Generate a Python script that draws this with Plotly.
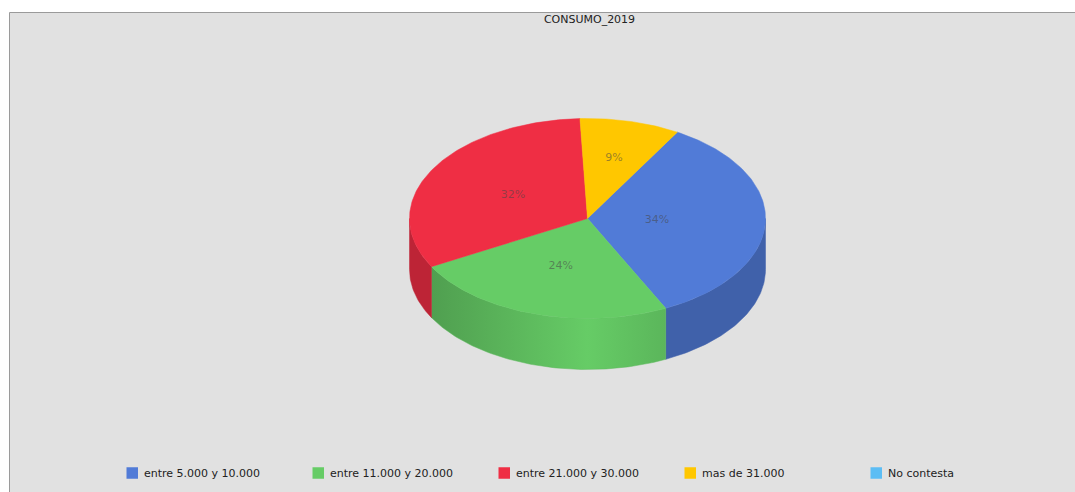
import numpy as np
import plotly.graph_objects as go

# ---- data ----
categories = ["entre 5.000 y 10.000", "entre 11.000 y 20.000",
              "entre 21.000 y 30.000", "mas de 31.000", "No contesta"]
values = [34, 24, 32, 9, 0]
title_text = "CONSUMO_2019"

# ---- styling / geometry ----
top_colors = ["#517BD7", "#66CC66", "#EF2E44", "#FFC700", "#5CBDF4"]
W, H = 1075, 492
CX, CY = 587.5, 218.5        # centre of the top ellipse
RX, RY = 178.0, 100.0        # ellipse radii
DEPTH = 51.0                 # thickness of the pie
START_DEG = 30.3             # first slice starts here (clockwise from 12 o'clock)
LABEL_R = [0.39, 0.5, 0.48, 0.62, 0.5]
SIDE_SHADE = 0.79
FONT = "DejaVu Sans, Verdana, sans-serif"

# legend row
LEG_X0, LEG_STEP, LEG_Y, LEG_BOX, LEG_TEXT_DX = 126.5, 186.0, 473.0, 11.5, 15.5


def shade(hex_color, f):
    h = hex_color.lstrip("#")
    r, g, b = (int(h[i:i + 2], 16) for i in (0, 2, 4))
    return "rgb({},{},{})".format(*(int(round(c * f)) for c in (r, g, b)))


def arc(a0, a1, dz=0.0):
    n = max(2, int(abs(a1 - a0)) + 1)
    t = np.radians(np.linspace(a0, a1, n))
    return CX + RX * np.sin(t), CY - RY * np.cos(t) + dz


fig = go.Figure()

total = float(sum(values))
spans = [v / total * 360.0 for v in values]
starts = []
a = START_DEG
for s in spans:
    starts.append(a)
    a += s

# side walls (front half of the ellipse: 90..270 deg)
for i, (a0, s) in enumerate(zip(starts, spans)):
    if s <= 0:
        continue
    a0n = a0 % 360.0
    a1n = a0n + s
    for lo, hi in ((90.0, 270.0), (450.0, 630.0)):
        b0, b1 = max(a0n, lo), min(a1n, hi)
        if b1 - b0 <= 0.01:
            continue
        xt, yt = arc(b0, b1)
        xb, yb = arc(b1, b0, DEPTH)
        xs = np.concatenate([xt, xb, xt[:1]])
        ys = np.concatenate([yt, yb, yt[:1]])
        base = shade(top_colors[i], SIDE_SHADE)
        contains_front = b0 <= 180.0 <= b1 or b0 <= 540.0 <= b1
        kw = dict(fillcolor=base)
        if contains_front:
            xmin, xmax = xs.min(), xs.max()
            f_left = 1 - 0.25 * abs(xmin - CX) / RX
            f_right = 1 - 0.25 * abs(xmax - CX) / RX
            pos = (CX - xmin) / (xmax - xmin)
            kw = dict(fillgradient=dict(
                type="horizontal",
                colorscale=[[0, shade(top_colors[i], f_left)],
                            [pos, shade(top_colors[i], 1.0)],
                            [1, shade(top_colors[i], f_right)]]))
            base = shade(top_colors[i], 0.9)
        fig.add_trace(go.Scatter(
            x=xs, y=ys, mode="lines", fill="toself",
            line=dict(width=0.5, color=base), hoverinfo="skip",
            showlegend=False, **kw))

# top faces
for i, (a0, s) in enumerate(zip(starts, spans)):
    if s <= 0:
        continue
    xa, ya = arc(a0, a0 + s)
    xs = np.concatenate([[CX], xa, [CX]])
    ys = np.concatenate([[CY], ya, [CY]])
    fig.add_trace(go.Scatter(
        x=xs, y=ys, mode="lines", fill="toself", fillcolor=top_colors[i],
        line=dict(width=0.5, color=top_colors[i]),
        name=categories[i], hoverinfo="name", showlegend=False))

# percentage labels
lx, ly, lt = [], [], []
for i, (a0, s) in enumerate(zip(starts, spans)):
    if s <= 0:
        continue
    m = np.radians(a0 + s / 2)
    lx.append(CX + LABEL_R[i] * RX * np.sin(m))
    ly.append(CY - LABEL_R[i] * RY * np.cos(m))
    lt.append("{:.0f}%".format(values[i] / total * 100))
fig.add_trace(go.Scatter(
    x=lx, y=ly, mode="text", text=lt, hoverinfo="skip", showlegend=False,
    textfont=dict(family=FONT, size=11, color="rgba(70,70,70,0.55)")))

# legend row: colour square + label for every category
shapes = [dict(type="rect", xref="x", yref="y",
               x0=9.5, y0=12.5, x1=W + 20, y1=H + 20,
               fillcolor="#E1E1E1", line=dict(color="#9A9A9A", width=1),
               layer="below")]
annotations = []
for k, (cat, col) in enumerate(zip(categories, top_colors)):
    x0 = LEG_X0 + k * LEG_STEP
    shapes.append(dict(type="rect", xref="x", yref="y",
                       x0=x0, x1=x0 + LEG_BOX,
                       y0=LEG_Y - LEG_BOX / 2, y1=LEG_Y + LEG_BOX / 2,
                       fillcolor=col, line=dict(width=0)))
    annotations.append(dict(x=x0 + LEG_TEXT_DX, y=LEG_Y, xref="x", yref="y",
                            text=cat, showarrow=False, xanchor="left",
                            yanchor="middle",
                            font=dict(family=FONT, size=11, color="#222222")))

fig.update_layout(
    width=W, height=H,
    margin=dict(l=0, r=0, t=0, b=0),
    paper_bgcolor="white", plot_bgcolor="white",
    xaxis=dict(range=[0, W], visible=False, fixedrange=True),
    yaxis=dict(range=[H, 0], visible=False, fixedrange=True),
    shapes=shapes,
    annotations=annotations,
    title=dict(text=title_text, x=589.5 / W, xanchor="center",
               y=1 - 19 / H, yanchor="middle", yref="container",
               font=dict(family=FONT, size=11, color="#222222")),
    showlegend=False,
)

fig.write_html("out.html", config={"displayModeBar": False})
